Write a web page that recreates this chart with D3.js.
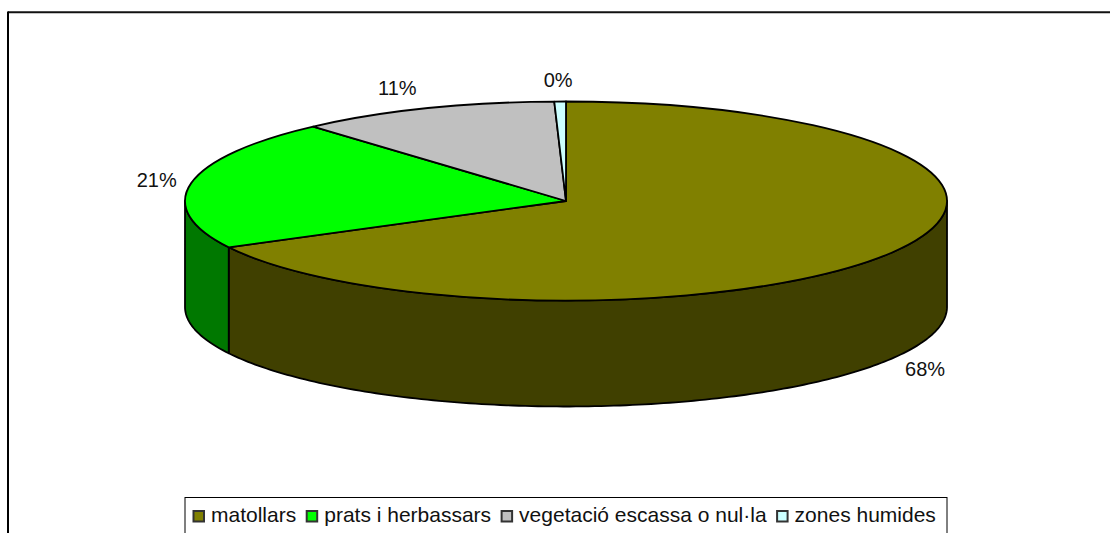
<!DOCTYPE html>
<html lang="ca">
<head>
    <meta charset="UTF-8">
    <title>Cobertes del sòl</title>
    <script src="https://d3js.org/d3.v7.min.js"></script>
    <style>
        body { margin: 0; background: #fff; }
        svg { display: block; }
        text { font-family: "Liberation Sans", Arial, sans-serif; font-size: 20px; fill: #111; }
        .legend-label { font-size: 21px; }
    </style>
</head>
<body>

<div id="chart"></div>

<script>
// Data
const categories = ["matollars", "prats i herbassars", "vegetació escassa o nul·la", "zones humides"];
// slice sizes as measured on the drawn disc, printed labels as they read in the chart
const percents = [67.3, 21.15, 11.06, 0.49];
const percentLabels = ["68%", "21%", "11%", "0%"];
const topColors = ["#808000", "#00ff00", "#c0c0c0", "#ccffff"];
const sideColors = ["#404000", "#007800", "#606060", "#668080"];

// Layout
const width = 1110;
const height = 533;
const cx = 566;
const cy = 201;
const rx = 381;
const ry = 99.5;
const depth = 106;
// label shift from the slice's rim midpoint
const labelNudge = [[33, 18], [-34.5, 4], [-28, -14], [-2, -15]];

const svg = d3.select("#chart")
    .append("svg")
    .attr("width", width)
    .attr("height", height);

// Frame (only top and left are inside the crop)
svg.append("line")
    .attr("x1", 8).attr("x2", width).attr("y1", 12.3).attr("y2", 12.3)
    .attr("stroke", "#111").attr("stroke-width", 2);
svg.append("line")
    .attr("x1", 8).attr("x2", 8).attr("y1", 11.5).attr("y2", height)
    .attr("stroke", "#000").attr("stroke-width", 2);

const slices = d3.pie().sort(null).startAngle(0).endAngle(2 * Math.PI)(percents);

const px = a => cx + rx * Math.sin(a);
const py = a => cy - ry * Math.cos(a);

// Side wall: only the front half of the disc shows
const wall = d3.area()
    .x(px)
    .y0(py)
    .y1(a => py(a) + depth);

svg.append("g").selectAll("path")
    .data(slices.filter(d => d.startAngle < 1.5 * Math.PI && d.endAngle > 0.5 * Math.PI))
    .join("path")
    .attr("d", d => {
        const a0 = Math.max(d.startAngle, 0.5 * Math.PI);
        const a1 = Math.min(d.endAngle, 1.5 * Math.PI);
        const n = Math.ceil((a1 - a0) * 60);
        return wall(d3.range(n + 1).map(i => a0 + (a1 - a0) * i / n));
    })
    .attr("fill", d => sideColors[d.index])
    .attr("stroke", "#000")
    .attr("stroke-width", 1.8)
    .attr("stroke-linejoin", "round");

// Top face
const arc = d3.arc().innerRadius(0).outerRadius(rx);

svg.append("g")
    .attr("transform", `translate(${cx},${cy}) scale(1,${ry / rx})`)
    .selectAll("path")
    .data(slices)
    .join("path")
    .attr("d", arc)
    .attr("fill", d => topColors[d.index])
    .attr("stroke", "#000")
    .attr("stroke-width", 1.8)
    .attr("stroke-linejoin", "round")
    .attr("vector-effect", "non-scaling-stroke");

// Percent labels
svg.append("g").selectAll("text")
    .data(slices)
    .join("text")
    .attr("text-anchor", "middle")
    .attr("x", d => px((d.startAngle + d.endAngle) / 2) + labelNudge[d.index][0])
    .attr("y", d => {
        const mid = (d.startAngle + d.endAngle) / 2;
        const front = Math.cos(mid) < 0 ? depth : 0;
        return py(mid) + front + labelNudge[d.index][1];
    })
    .text(d => percentLabels[d.index]);

// Legend
const legend = svg.append("g");
legend.append("rect")
    .attr("x", 185).attr("y", 497.5)
    .attr("width", 762).attr("height", 60)
    .attr("fill", "#fff")
    .attr("stroke", "#000")
    .attr("stroke-width", 1);

let lx = 193.5;
categories.forEach((name, i) => {
    legend.append("rect")
        .attr("x", lx).attr("y", 511)
        .attr("width", 10.5).attr("height", 10.5)
        .attr("fill", topColors[i])
        .attr("stroke", "#333")
        .attr("stroke-width", 2);
    const t = legend.append("text")
        .attr("class", "legend-label")
        .attr("x", lx + 17.5)
        .attr("y", 522)
        .text(name);
    lx += 17.5 + t.node().getComputedTextLength() + 10.5;
});
</script>

</body>
</html>
